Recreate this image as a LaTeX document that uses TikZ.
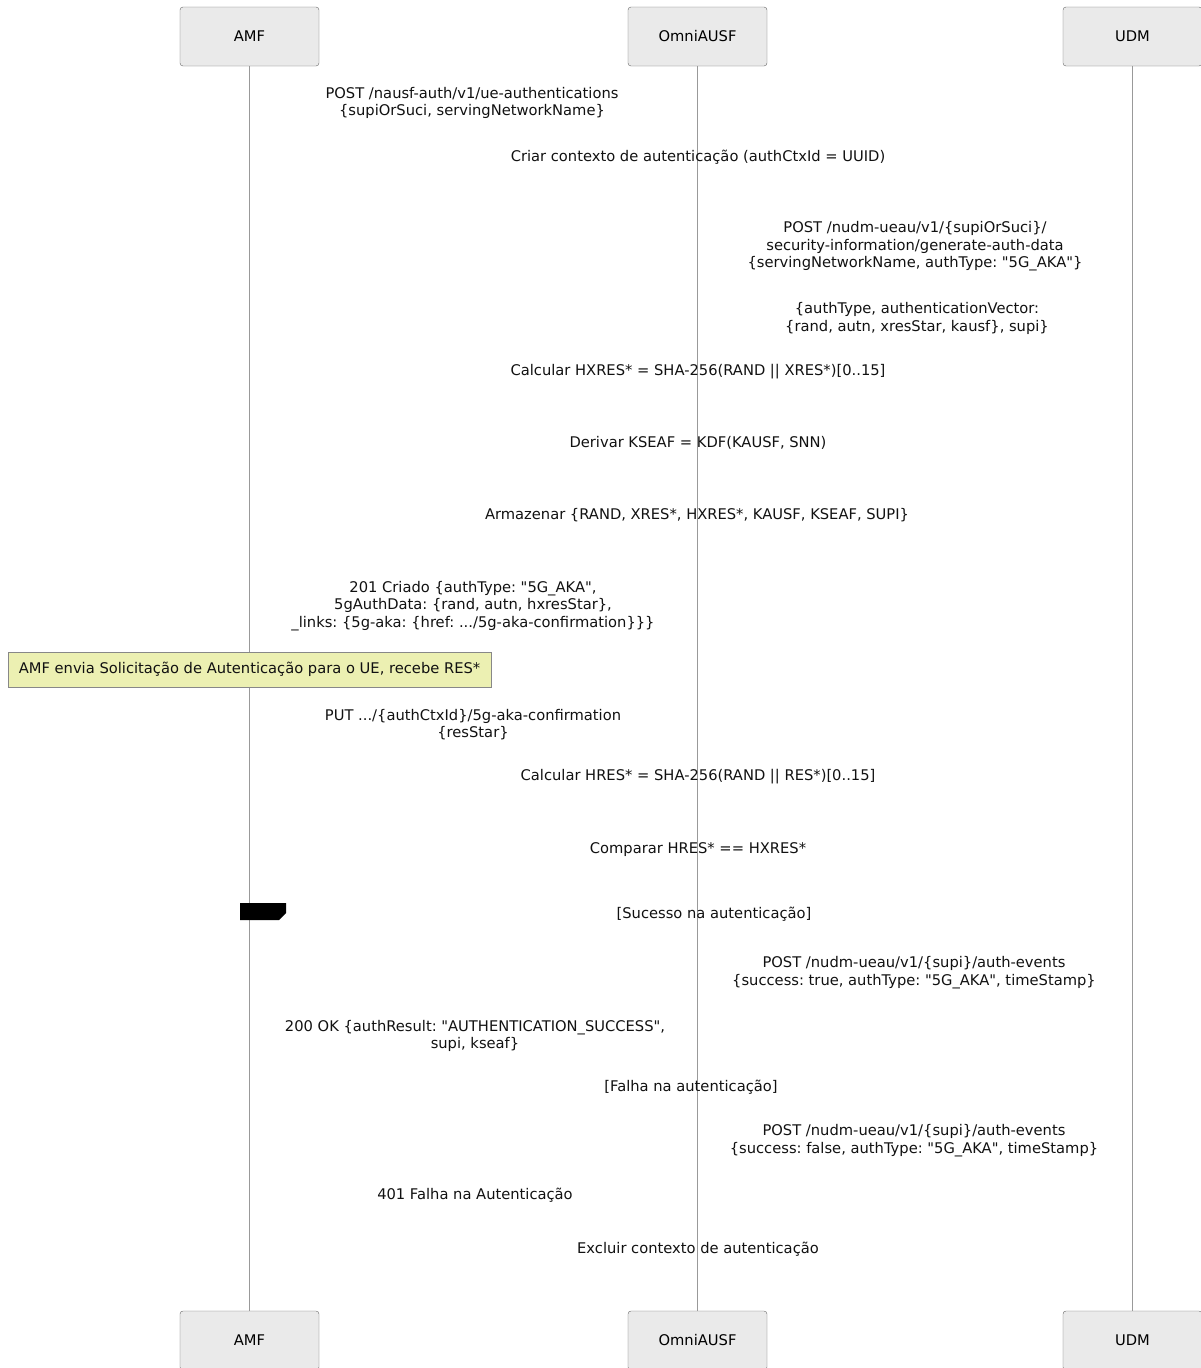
\documentclass[tikz,border=0pt]{standalone}
\usepackage{fontspec}
\setmainfont{DejaVu Sans}[Ligatures=TeXOff]
\frenchspacing
\definecolor{actfill}{HTML}{EAEAEA}
\definecolor{actdraw}{HTML}{666666}
\definecolor{lifecol}{HTML}{999999}
\definecolor{notefill}{RGB}{236,240,178}
\definecolor{notedraw}{HTML}{888888}
\definecolor{txt}{HTML}{111111}
\begin{document}
\begin{tikzpicture}[x=1pt,y=-1pt,
  actor/.style={draw=actdraw,fill=actfill,rounded corners=3pt,minimum width=139pt,minimum height=59pt,inner sep=0pt,font=\fontsize{14.7}{17.5}\selectfont\frenchspacing,text=black},
  msg/.style={align=center,inner sep=0pt,font=\fontsize{14.7}{17.5}\selectfont\frenchspacing,text=txt},
  notebox/.style={draw=notedraw,fill=notefill,minimum width=483pt,minimum height=35pt,inner sep=0pt,font=\fontsize{14.7}{17.5}\selectfont\frenchspacing,text=txt},
  life/.style={draw=lifecol,line width=0.8pt}]
\useasboundingbox (0,0) rectangle (1201,1368);
\clip (0,0) rectangle (1201,1368);
% actors
\node[actor] (amfT) at (249.5,36.5) {AMF};
\node[actor] (ausfT) at (697.5,36.5) {OmniAUSF};
\node[actor] (udmT) at (1132.5,36.5) {UDM};
\node[actor] (amfB) at (249.5,1340.5) {AMF};
\node[actor] (ausfB) at (697.5,1340.5) {OmniAUSF};
\node[actor] (udmB) at (1132.5,1340.5) {UDM};
% lifelines
\draw[life] (amfT.south) -- (amfB.north);
\draw[life] (ausfT.south) -- (ausfB.north);
\draw[life] (udmT.south) -- (udmB.north);
% messages
\node[msg] (m1) at (472,103) {POST /nausf-auth/v1/ue-authentications\\\{supiOrSuci, servingNetworkName\}};
\node[msg] (m2) at (698,157) {Criar contexto de autenticação (authCtxId = UUID)};
\node[msg] (m3) at (915,246.5) {POST /nudm-ueau/v1/\{supiOrSuci\}/\\security-information/generate-auth-data\\\{servingNetworkName, authType: "5G\_AKA"\}};
\node[msg] (m4) at (917,318.5) {\{authType, authenticationVector:\\\{rand, autn, xresStar, kausf\}, supi\}};
\node[msg] (m5) at (698,372) {Calcular HXRES* = SHA-256(RAND || XRES*)[0..15]};
\node[msg] (m6) at (698,443) {Derivar KSEAF = KDF(KAUSF, SNN)};
\node[msg] (m7) at (697,515) {Armazenar \{RAND, XRES*, HXRES*, KAUSF, KSEAF, SUPI\}};
\node[msg] (m8) at (473,606) {201 Criado \{authType: "5G\_AKA",\\5gAuthData: \{rand, autn, hxresStar\},\\\_links: \{5g-aka: \{href: .../5g-aka-confirmation\}\}\}};
\node[notebox] (note) at (249.5,669.5) {AMF envia Solicitação de Autenticação para o UE, recebe RES*};
\node[msg] (m9) at (473,724.5) {PUT .../\{authCtxId\}/5g-aka-confirmation\\\{resStar\}};
\node[msg] (m10) at (698,777) {Calcular HRES* = SHA-256(RAND || RES*)[0..15]};
\node[msg] (m11) at (698,850) {Comparar HRES* == HXRES*};
\fill[black] (240,903) -- (286,903) -- (286,913) -- (279,920) -- (240,920) -- cycle;
\node[msg] (g1) at (714,914) {[Sucesso na autenticação]};
\node[msg] (m12) at (914,972.5) {POST /nudm-ueau/v1/\{supi\}/auth-events\\\{success: true, authType: "5G\_AKA", timeStamp\}};
\node[msg] (m13) at (475,1036) {200 OK \{authResult: "AUTHENTICATION\_SUCCESS",\\supi, kseaf\}};
\node[msg] (g2) at (691,1087) {[Falha na autenticação]};
\node[msg] (m14) at (914,1140.5) {POST /nudm-ueau/v1/\{supi\}/auth-events\\\{success: false, authType: "5G\_AKA", timeStamp\}};
\node[msg] (m15) at (475,1195) {401 Falha na Autenticação};
\node[msg] (m16) at (698,1249) {Excluir contexto de autenticação};
\end{tikzpicture}
\end{document}
